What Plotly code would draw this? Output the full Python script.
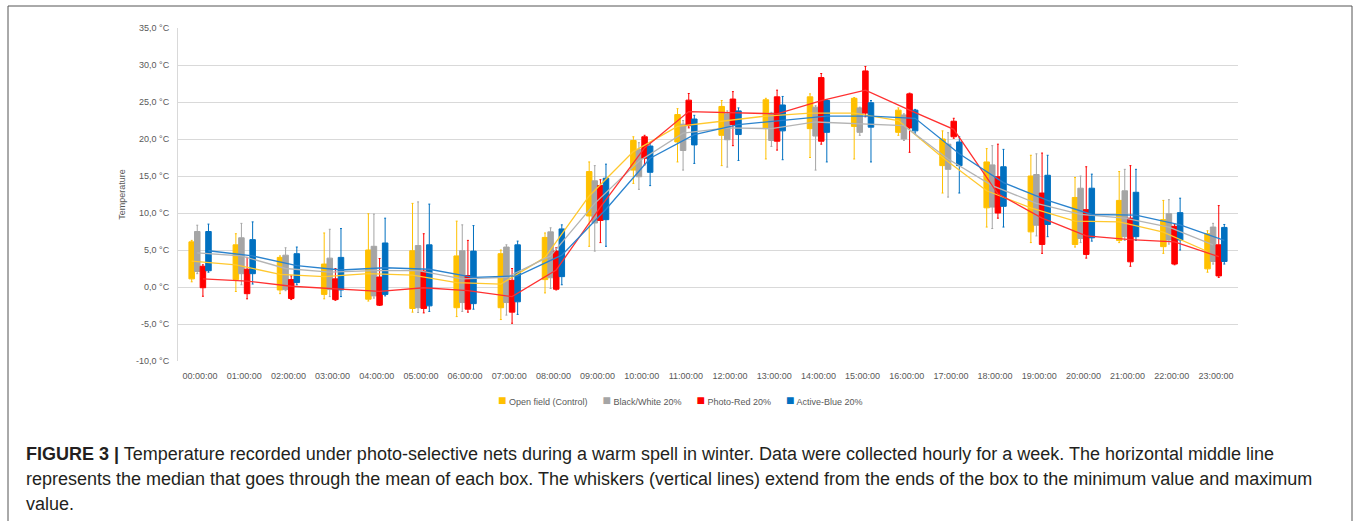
import plotly.graph_objects as go

hours = ["%02d:00:00" % h for h in range(24)]

series_names = ["Open field (Control)", "Black/White 20%", "Photo-Red 20%", "Active-Blue 20%"]
box_colors = ["#FFC000", "#A5A5A5", "#FF0000", "#0070C0"]
line_colors = ["#FFC82E", "#B4B4B4", "#FF3030", "#2A83CE"]

# Open field (Control)
yel_q3 = [6.1, 5.7, 4.0, 3.1, 5.0, 4.9, 4.2, 4.5, 6.7, 15.6, 19.8, 23.3, 24.4, 25.3, 25.7, 25.5, 23.9, 20.0, 16.9, 15.0, 12.1, 11.7, 9.1, 7.2]
yel_q1 = [1.1, 1.0, -0.4, -1.0, -1.65, -2.9, -2.8, -2.8, 1.0, 9.6, 15.8, 19.6, 20.5, 21.4, 21.4, 21.7, 20.9, 16.4, 10.7, 7.45, 5.75, 6.3, 5.45, 2.45]
yel_hi = [6.3, 7.2, 4.2, 7.3, 9.9, 11.3, 8.9, 5.0, 7.3, 16.9, 20.3, 24.1, 25.2, 25.5, 26.1, 25.6, 24.2, 21.1, 18.7, 17.8, 14.8, 15.6, 11.7, 7.6]
yel_lo = [0.7, -0.6, -0.9, -1.6, -1.9, -3.4, -4.0, -4.4, -0.8, 5.5, 14.0, 16.9, 16.4, 17.3, 17.5, 17.3, 20.5, 12.7, 8.1, 6.0, 5.4, 6.0, 4.55, 2.0]
yel_mean = [3.5, 3.0, 1.7, 1.4, 1.8, 1.6, 0.6, 0.4, 4.0, 12.3, 18.3, 21.7, 22.4, 23.1, 23.5, 23.5, 22.5, 17.5, 13.0, 10.7, 8.9, 8.8, 7.4, 4.8]

# Black/White 20%
gry_q3 = [7.5, 6.65, 4.3, 3.9, 5.5, 5.6, 4.9, 5.4, 7.45, 14.35, 18.6, 22.0, 23.4, 23.5, 24.3, 24.2, 23.25, 19.3, 16.5, 15.2, 13.35, 13.0, 9.9, 8.1]
gry_q1 = [2.1, 1.8, -0.35, -0.35, -1.2, -2.8, -2.1, -2.1, 1.25, 8.65, 14.9, 18.45, 19.9, 19.8, 20.4, 20.9, 20.0, 15.9, 10.8, 8.35, 6.55, 6.8, 6.35, 3.45]
gry_hi = [8.35, 8.6, 5.3, 7.8, 9.85, 11.5, 8.4, 5.7, 8.0, 16.4, 19.5, 22.5, 23.8, 23.6, 24.5, 24.3, 23.4, 20.85, 19.1, 18.0, 15.0, 15.9, 11.8, 8.6]
gry_lo = [1.8, 0.3, -0.5, -1.3, -1.5, -3.45, -3.3, -3.8, -0.2, 4.85, 13.2, 15.8, 16.2, 19.0, 15.8, 20.5, 19.8, 12.15, 7.9, 6.9, 6.0, 6.3, 5.8, 3.1]
gry_mean = [4.6, 4.2, 2.5, 2.0, 2.2, 2.2, 1.1, 1.3, 4.2, 11.3, 17.0, 20.8, 21.5, 21.4, 22.3, 22.1, 21.8, 17.3, 13.7, 11.3, 9.8, 9.3, 8.1, 5.7]

# Photo-Red 20%
red_q3 = [2.8, 2.4, 1.0, 1.1, 1.35, 2.15, 1.55, 0.9, 4.85, 13.7, 20.3, 25.25, 25.4, 25.7, 28.3, 29.2, 26.1, 22.4, 14.9, 12.7, 10.45, 9.3, 8.2, 5.7]
red_q1 = [-0.1, -0.9, -1.55, -1.7, -2.45, -2.9, -3.0, -3.4, -0.3, 9.0, 17.4, 21.8, 21.95, 19.7, 19.7, 23.5, 21.5, 20.3, 10.0, 5.75, 4.4, 3.4, 3.1, 1.5]
red_hi = [3.0, 4.0, 1.5, 2.5, 3.85, 7.2, 6.3, 2.5, 5.3, 14.5, 20.5, 26.15, 26.4, 26.6, 28.85, 29.8, 26.2, 22.8, 19.3, 18.1, 16.25, 16.4, 8.5, 11.0]
red_lo = [-1.25, -1.6, -1.7, -1.8, -2.5, -3.5, -3.4, -4.9, -0.4, 6.0, 16.5, 21.5, 19.1, 18.5, 19.3, 23.0, 18.2, 20.1, 9.3, 4.55, 3.9, 2.8, 3.0, 1.3]
red_mean = [1.1, 0.8, 0.1, -0.2, -0.6, -0.1, -0.5, -1.3, 2.3, 10.8, 18.8, 23.7, 23.55, 23.4, 25.2, 26.6, 23.9, 21.3, 12.6, 9.3, 6.9, 6.4, 6.1, 4.1]

# Active-Blue 20%
blu_q3 = [7.5, 6.4, 4.5, 4.0, 5.95, 5.7, 4.85, 5.7, 7.85, 14.7, 19.05, 22.7, 23.8, 24.6, 25.2, 24.9, 23.9, 19.6, 16.25, 15.1, 13.35, 12.8, 10.05, 8.05]
blu_q1 = [2.2, 1.8, 0.6, -0.4, -1.0, -2.55, -2.25, -2.0, 1.4, 9.1, 15.5, 19.2, 20.6, 21.1, 20.9, 21.6, 21.1, 16.4, 10.9, 8.45, 6.65, 6.8, 6.35, 3.45]
blu_hi = [8.5, 8.8, 5.4, 7.9, 9.3, 11.2, 8.3, 6.2, 8.4, 16.6, 19.5, 23.2, 24.2, 25.75, 25.3, 25.2, 24.0, 20.3, 18.6, 17.8, 15.25, 15.9, 12.0, 8.45]
blu_lo = [2.0, 0.4, 0.3, -1.3, -1.2, -3.3, -3.0, -3.7, 0.3, 5.5, 13.7, 16.7, 17.1, 17.2, 16.9, 16.9, 20.8, 12.7, 8.1, 6.8, 6.2, 6.3, 5.0, 3.1]
blu_mean = [4.9, 4.2, 2.9, 2.3, 2.6, 2.4, 1.3, 1.5, 4.3, 10.5, 17.4, 20.6, 21.95, 22.5, 23.1, 23.1, 22.8, 18.0, 14.1, 11.7, 9.8, 9.7, 8.4, 6.3]

y_ticks = [-10, -5, 0, 5, 10, 15, 20, 25, 30, 35]
y_tick_labels = [("%.1f °C" % v).replace(".", ",") for v in y_ticks]

caption_lines = [
    "<b>FIGURE 3 |</b> Temperature recorded under photo-selective nets during a warm spell in winter. Data were collected hourly for a week. The horizontal middle line",
    "represents the median that goes through the mean of each box. The whiskers (vertical lines) extend from the ends of the box to the minimum value and maximum",
    "value.",
]

q3s = [yel_q3, gry_q3, red_q3, blu_q3]
q1s = [yel_q1, gry_q1, red_q1, blu_q1]
his = [yel_hi, gry_hi, red_hi, blu_hi]
los = [yel_lo, gry_lo, red_lo, blu_lo]
means = [yel_mean, gry_mean, red_mean, blu_mean]

offsets = [-0.19, -0.064, 0.064, 0.19]
box_w = 0.125

fig = go.Figure()
for k in range(4):
    xs = [h + offsets[k] for h in range(len(hours))]
    fig.add_trace(go.Box(
        x=xs, q1=q1s[k], q3=q3s[k], median=means[k],
        lowerfence=los[k], upperfence=his[k],
        width=box_w, fillcolor=box_colors[k],
        line=dict(color=box_colors[k], width=1),
        whiskerwidth=0.35, boxpoints=False, showlegend=False,
        hoverinfo="skip", name=series_names[k]))
for k in range(4):
    xs = [h + offsets[k] for h in range(len(hours))]
    fig.add_trace(go.Scatter(
        x=xs, y=means[k], mode="lines",
        line=dict(color=line_colors[k], width=1.3),
        showlegend=False, hoverinfo="skip"))

W, H = 1360, 521
L, T = 178, 28
R_EDGE, B_EDGE = 1238, 361
pw = R_EDGE - L
ph = B_EDGE - T

def px(xp):
    return (xp - L) / pw

def py(yp):
    return (B_EDGE - yp) / ph

fig.update_layout(
    width=W, height=H,
    margin=dict(l=L, r=W - R_EDGE, t=T, b=H - B_EDGE, pad=0),
    paper_bgcolor="white", plot_bgcolor="white",
    font=dict(family="Liberation Sans, Arial, sans-serif", size=9, color="#595959"),
    boxmode="overlay",
    showlegend=False,
    xaxis=dict(range=[-0.5, len(hours) - 0.5], tickmode="array",
               tickvals=list(range(len(hours))), ticktext=hours,
               showgrid=False, zeroline=False, ticks="", showline=False,
               ticklabelstandoff=8,
               tickfont=dict(size=9, color="#595959")),
    yaxis=dict(range=[-10, 35], tickmode="array", tickvals=y_ticks, ticktext=y_tick_labels,
               showgrid=True, gridcolor="#D9D9D9", gridwidth=1, zeroline=False,
               showline=True, linecolor="#D9D9D9", ticks="",
               ticklabelstandoff=6,
               tickfont=dict(size=9, color="#595959"),
               title=dict(text="Temperature", font=dict(size=9, color="#595959"), standoff=8)),
)

# legend built as text with coloured square glyphs
legend_parts = []
for name, col in zip(series_names, box_colors):
    legend_parts.append('<span style="color:%s;font-size:14px">■</span> %s' % (col, name))
fig.add_annotation(text="      ".join(legend_parts), xref="paper", yref="paper",
                   x=px(680), y=py(400), xanchor="center", yanchor="middle",
                   showarrow=False, font=dict(size=9, color="#595959"))

# figure frame
fig.add_shape(type="rect", xref="paper", yref="paper",
              x0=px(8), x1=px(1352), y0=py(540), y1=py(6),
              line=dict(color="#555555", width=1), fillcolor="rgba(0,0,0,0)", layer="below")

for t, yy in zip(caption_lines, [454, 479, 504]):
    fig.add_annotation(text=t, xref="paper", yref="paper", x=px(24), y=py(yy),
                       xanchor="left", yanchor="middle", showarrow=False,
                       font=dict(family="Liberation Sans, Arial, sans-serif", size=18, color="#231F20"))

fig.write_html("out.html", config={"displayModeBar": False},
               post_script="document.body.style.margin='0px';")
